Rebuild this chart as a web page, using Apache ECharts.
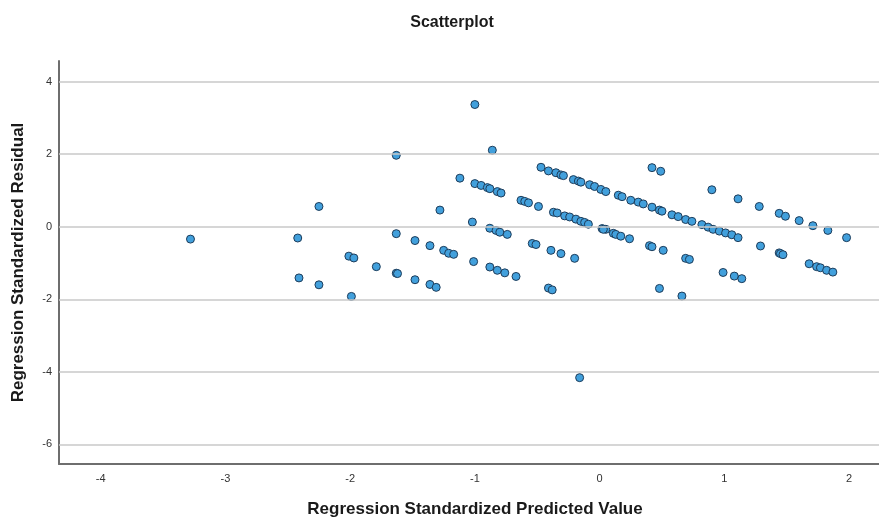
<!DOCTYPE html>
<html>
<head>
<meta charset="utf-8">
<script src="https://cdn.jsdelivr.net/npm/echarts@6/dist/echarts.min.js"></script>
<style>
html,body{margin:0;padding:0;background:#fff;}
#chart{width:879px;height:517px;}
</style>
</head>
<body>
<div id="chart"></div>
<script>
// Regression Standardized Predicted Value (x) and Residual (y)
var predicted = [
  -3.28,-2.42,-2.41,-2.25,-2.25,-2.01,-1.97,-1.99,-1.79,-1.63,
  -1.63,-1.63,-1.62,-1.48,-1.48,-1.28,-1.36,-1.36,-1.31,-1.25,
  -1.21,-1.17,-1.02,-1.01,-0.88,-0.83,-0.80,-0.74,-0.88,-0.82,
  -0.76,-0.67,-0.63,-0.60,-0.57,-0.49,-0.54,-0.51,-0.39,-0.31,
  -0.20,-0.41,-0.38,-0.37,-0.34,-0.28,-0.24,-0.19,-0.15,-0.12,
  -0.09,0.02,0.05,-1.00,-0.86,-1.12,-1.00,-0.95,-0.90,-0.88,
  -0.82,-0.79,-0.47,-0.41,-0.35,-0.31,-0.29,-0.21,-0.17,-0.15,
  -0.08,-0.04,0.01,0.05,0.15,0.18,0.25,0.31,0.35,0.42,
  0.48,0.50,0.58,0.63,0.69,0.74,0.82,0.87,0.91,0.96,
  1.01,1.06,1.11,0.42,0.49,0.90,1.11,0.03,0.11,0.13,
  0.17,0.24,0.40,0.42,0.51,0.69,0.72,0.99,1.08,1.14,
  0.48,0.66,1.28,1.44,1.49,1.60,1.71,1.83,1.98,1.29,
  1.44,1.45,1.47,1.68,1.74,1.77,1.82,1.87,-0.16
];
var residual = [
  -0.34,-0.31,-1.41,0.56,-1.60,-0.81,-0.86,-1.92,-1.10,1.97,
  -0.19,-1.28,-1.29,-0.38,-1.46,0.46,-0.52,-1.59,-1.67,-0.65,
  -0.73,-0.76,0.13,-0.96,-0.04,-0.10,-0.15,-0.21,-1.11,-1.20,
  -1.27,-1.37,0.73,0.70,0.66,0.56,-0.46,-0.49,-0.65,-0.74,
  -0.87,-1.69,-1.74,0.40,0.38,0.30,0.27,0.21,0.15,0.12,
  0.07,-0.05,-0.07,3.37,2.11,1.34,1.19,1.14,1.08,1.05,
  0.97,0.93,1.64,1.54,1.49,1.43,1.41,1.30,1.26,1.23,
  1.16,1.11,1.03,0.97,0.87,0.83,0.73,0.68,0.63,0.54,
  0.46,0.43,0.33,0.28,0.20,0.15,0.06,-0.01,-0.07,-0.12,
  -0.17,-0.22,-0.30,1.63,1.53,1.02,0.77,-0.07,-0.18,-0.21,
  -0.26,-0.33,-0.52,-0.55,-0.65,-0.87,-0.90,-1.26,-1.36,-1.43,
  -1.70,-1.91,0.56,0.37,0.29,0.17,0.03,-0.10,-0.30,-0.53,
  -0.72,-0.74,-0.77,-1.02,-1.10,-1.13,-1.20,-1.25,-4.16
];
var xTicks = [-4,-3,-2,-1,0,1,2];
var yTicks = [-6,-4,-2,0,2,4];

var points = predicted.map(function(x,i){ return [x, residual[i]]; });

var chart = echarts.init(document.getElementById('chart'), null, {renderer:'canvas'});
chart.setOption({
  animation:false,
  backgroundColor:'#ffffff',
  title:{
    text:'Scatterplot',
    left:447, top:10, textAlign:'center',
    textStyle:{fontFamily:'Liberation Sans, Arial, sans-serif', fontSize:16, fontWeight:'bold', color:'#1a1a1a'}
  },
  grid:{left:59, right:0, top:61, bottom:53, containLabel:false, outerBoundsMode:'none'},
  xAxis:{
    type:'value', min:-4.334, max:2.24,
    name:'Regression Standardized Predicted Value',
    nameLocation:'middle', nameGap:37,
    nameTextStyle:{fontFamily:'Liberation Sans, Arial, sans-serif', fontSize:17, fontWeight:'bold', color:'#1a1a1a', padding:[0,0,0,12]},
    axisLine:{show:true, onZero:false, lineStyle:{color:'#6e6e6e', width:2}},
    axisTick:{show:false},
    splitLine:{show:false},
    axisLabel:{customValues:xTicks, margin:9, fontSize:11, color:'#333', fontFamily:'Liberation Sans, Arial, sans-serif'}
  },
  yAxis:{
    type:'value', min:-6.54, max:4.57,
    name:'Regression Standardized Residual',
    nameLocation:'middle', nameGap:32, nameRotate:90,
    nameTextStyle:{fontFamily:'Liberation Sans, Arial, sans-serif', fontSize:17, fontWeight:'bold', color:'#1a1a1a'},
    axisLine:{show:true, onZero:false, lineStyle:{color:'#6e6e6e', width:2}},
    axisTick:{show:false},
    splitLine:{show:false},
    axisLabel:{customValues:yTicks, margin:7, fontSize:11, color:'#333', fontFamily:'Liberation Sans, Arial, sans-serif'}
  },
  series:[
    {
      type:'scatter', data:[], z:1, silent:true,
      markLine:{
        silent:true, symbol:'none', animation:false,
        label:{show:false},
        lineStyle:{color:'#c8c8c8', width:1.5, type:'solid'},
        data: yTicks.map(function(v){ return {yAxis:v}; })
      }
    },
    {
      type:'scatter', z:3,
      data:points,
      symbol:'circle', symbolSize:8,
      itemStyle:{color:'#42a0dc', borderColor:'#1d3c5a', borderWidth:1, opacity:1}
    }
  ]
});
</script>
</body>
</html>
